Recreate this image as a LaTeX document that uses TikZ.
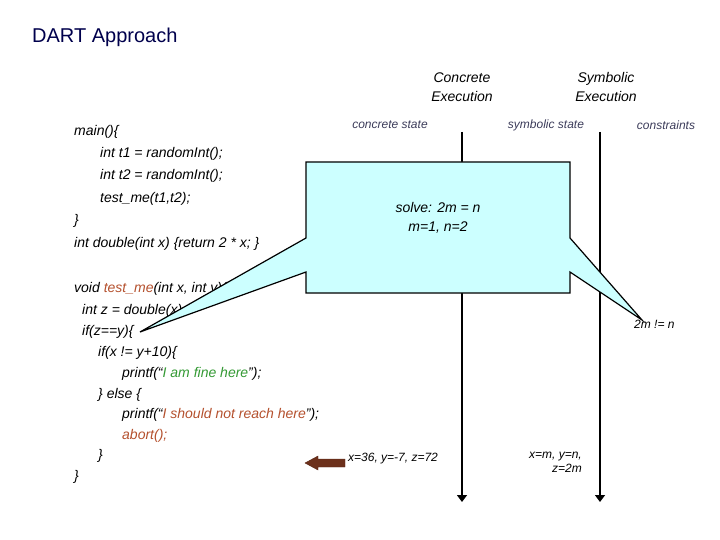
\documentclass[tikz,border=0pt]{standalone}
\usepackage{fontspec}
\setmainfont{Liberation Sans}
\usetikzlibrary{arrows.meta}
\definecolor{rd}{RGB}{180,80,45}
\definecolor{gr}{RGB}{51,153,51}
\definecolor{hd}{RGB}{60,60,90}
\definecolor{cy}{RGB}{204,255,255}
\begin{document}
\begin{tikzpicture}[x=1pt,y=-1pt,
 code/.style={anchor=west,inner sep=0,font=\fontsize{14}{16}\selectfont\itshape},
 lab/.style={inner sep=0,font=\fontsize{12}{14}\selectfont\itshape,text=hd},
 hdr/.style={inner sep=0,align=center,font=\fontsize{14}{19}\selectfont\itshape},
 tl/.style={line width=1.4pt,-{Triangle[width=10pt,length=7pt]}}]
\useasboundingbox (0,0) rectangle (720,540);
\node[inner sep=0,anchor=west,font=\fontsize{20}{24}\selectfont,text=blue!30!black] (title) at (32,37) {DART Approach};
\node[hdr] (h1) at (462,87) {Concrete\\Execution};
\node[hdr] (h2) at (606,87) {Symbolic\\Execution};
\node[lab] (l1) at (390,125) {concrete state};
\node[lab] (l2) at (546,125) {symbolic state};
\node[lab] (l3) at (666,125) {constraints};
\coordinate (a1) at (462,132); \coordinate (a2) at (462,502);
\coordinate (b1) at (600,132); \coordinate (b2) at (600,502);
\draw[tl] (a1) -- (a2);
\draw[tl] (b1) -- (b2);
\node[code] (c1) at (74,132) {main()\{};
\node[code] (c2) at (100,154) {int t1 = randomInt();};
\node[code] (c3) at (100,176) {int t2 = randomInt();};
\node[code] (c4) at (100,199) {test\_me(t1,t2);};
\node[code] (c5) at (74,221) {\}};
\node[code] (c6) at (74,244) {int double(int x) \{return 2 * x; \}};
\node[code] (c7) at (74,289) {void \textcolor{rd}{test\_me}(int x, int y)\{};
\node[code] (c8) at (82,311) {int z = double(x);};
\node[code] (c9) at (82,332) {if(z==y)\{};
\node[code] (c10) at (98,353) {if(x != y+10)\{};
\node[code] (c11) at (122,374) {printf(``\textcolor{gr}{I am fine here}'');};
\node[code] (c12) at (98,395) {\} else \{};
\node[code] (c13) at (122,415) {printf(``\textcolor{rd}{I should not reach here}'');};
\node[code] (c14) at (122,436) {\textcolor{rd}{abort();}};
\node[code] (c15) at (98,456) {\}};
\node[code] (c16) at (74,477) {\}};
\node[lab,text=black,anchor=west] (cv) at (348,459) {x=36, y=-7, z=72};
\node[lab,text=black,align=right,anchor=north east] (sv) at (582,452) {x=m, y=n,\\z=2m};
\node[lab,text=black,anchor=west] (cn) at (634,324) {2m != n};
\draw[fill=rd!60!black,draw=rd!50!black] (345,459) -- (318,459) -- (318,456) -- (305,463) -- (318,470) -- (318,467) -- (345,467) -- cycle;
\draw[line width=1.2pt,fill=cy] (306,162) -- (570,162) -- (570,238) -- (642,320) -- (570,272) -- (570,293) -- (306,293) -- (306,272) -- (140,332) -- (306,238) -- cycle;
\node[inner sep=0,align=center,font=\fontsize{14}{19}\selectfont\itshape] (sol) at (438,218) {solve: 2m = n\\m=1, n=2};
\end{tikzpicture}
\end{document}
